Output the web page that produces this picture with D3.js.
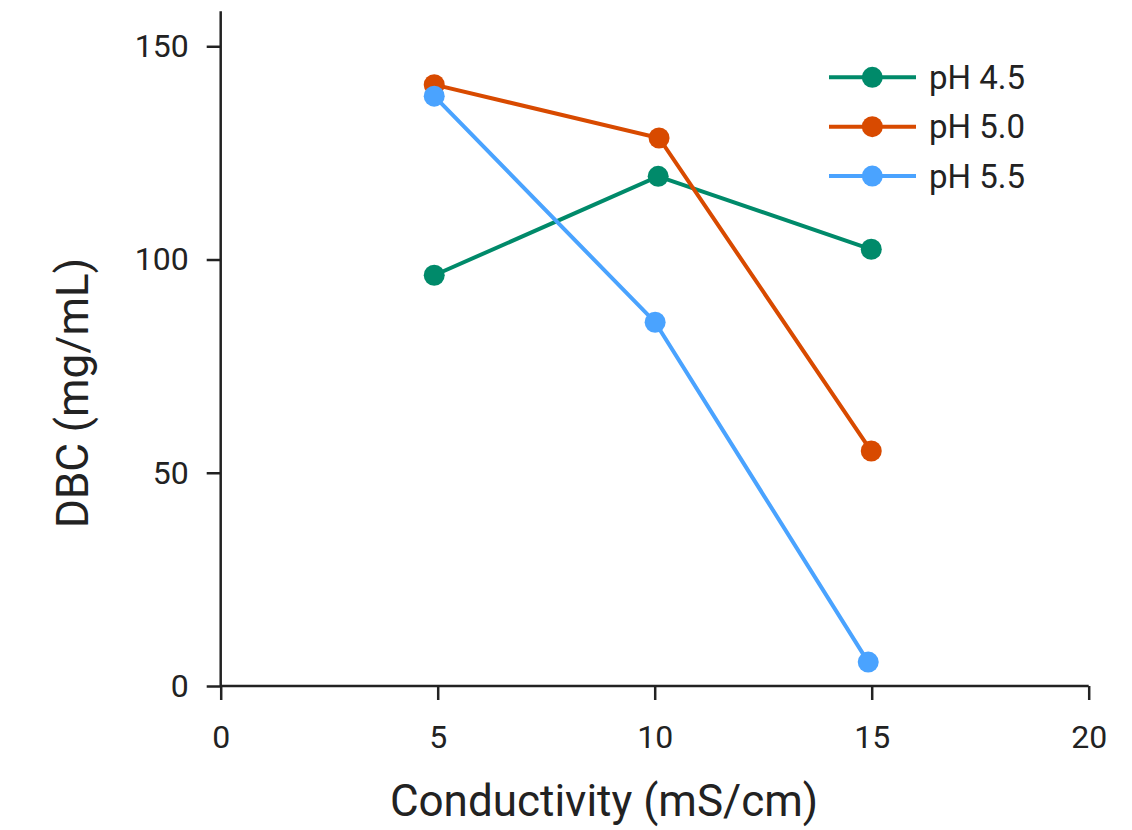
<!DOCTYPE html>
<html><head><meta charset="utf-8">
<script src="https://cdn.jsdelivr.net/npm/d3@7"></script>
<style>body{margin:0;background:#fff;}svg{display:block;}text{font-family:Roboto,"Noto Sans",sans-serif;fill:#222;}</style>
</head><body>
<svg id="chart" width="1132" height="830"></svg>
<script>
const seriesNames = ["pH 4.5", "pH 5.0", "pH 5.5"];
const ph45x = [4.92, 10.08, 14.99];
const ph45 = [96.3, 119.5, 102.4];
const ph50x = [4.92, 10.1, 14.99];
const ph50 = [141.0, 128.5, 55.1];
const ph55x = [4.92, 10.01, 14.92];
const ph55 = [138.3, 85.3, 5.6];
const colors = ["#008a6a", "#d84a00", "#4aa3ff"];
const xTicks = [0, 5, 10, 15, 20];
const yTicks = [0, 50, 100, 150];

const svg = d3.select("#chart");
const x = d3.scaleLinear().domain([0, 20]).range([220.7, 1088.7]);
const y = d3.scaleLinear().domain([0, 158.2]).range([686, 11.3]);

const series = [
  {name: seriesNames[0], xs: ph45x, ys: ph45, color: colors[0]},
  {name: seriesNames[1], xs: ph50x, ys: ph50, color: colors[1]},
  {name: seriesNames[2], xs: ph55x, ys: ph55, color: colors[2]}
];

const xAxis = svg.append("g").attr("transform", "translate(0,686)")
  .call(d3.axisBottom(x).tickValues(xTicks).tickSize(14).tickPadding(25).tickFormat(d3.format("d")));
const yAxis = svg.append("g").attr("transform", "translate(220.7,0)")
  .call(d3.axisLeft(y).tickValues(yTicks).tickSize(14).tickPadding(18).tickFormat(d3.format("d")));
[xAxis, yAxis].forEach(a => {
  a.select(".domain").attr("stroke", "#222").attr("stroke-width", 2.5);
  a.selectAll(".tick line").attr("stroke", "#222").attr("stroke-width", 2.5);
  a.selectAll(".tick text").style("font-size", "32px").attr("fill", "#222").style("font-family", "Roboto, sans-serif");
});
xAxis.select(".domain").attr("d", `M${x(0)},0H${x(20)}`);
yAxis.select(".domain").attr("d", `M0,${y(0)}V${y(158.2)}`);

const line = d3.line().x(d => x(d[0])).y(d => y(d[1]));
series.forEach(s => {
  const pts = s.xs.map((v, i) => [v, s.ys[i]]);
  svg.append("path").datum(pts).attr("d", line).attr("fill", "none")
    .attr("stroke", s.color).attr("stroke-width", 4);
  svg.append("g").selectAll("circle").data(pts).join("circle")
    .attr("cx", d => x(d[0])).attr("cy", d => y(d[1])).attr("r", 10.5).attr("fill", s.color);
});

const legend = svg.append("g");
series.forEach((s, i) => {
  const ly = 77.3 + i * 49.4;
  legend.append("line").attr("x1", 829).attr("x2", 916).attr("y1", ly).attr("y2", ly)
    .attr("stroke", s.color).attr("stroke-width", 4);
  legend.append("circle").attr("cx", 872.3).attr("cy", ly).attr("r", 10.5).attr("fill", s.color);
  legend.append("text").attr("x", 929).attr("y", ly).attr("dy", "0.35em")
    .style("font-size", "33px").text(s.name);
});

svg.append("text").attr("x", 604).attr("y", 816).attr("text-anchor", "middle")
  .style("font-size", "44px").text("Conductivity (mS/cm)");
svg.append("text").attr("transform", "translate(88,393) rotate(-90)").attr("text-anchor", "middle")
  .style("font-size", "44px").text("DBC (mg/mL)");
</script>
</body></html>
